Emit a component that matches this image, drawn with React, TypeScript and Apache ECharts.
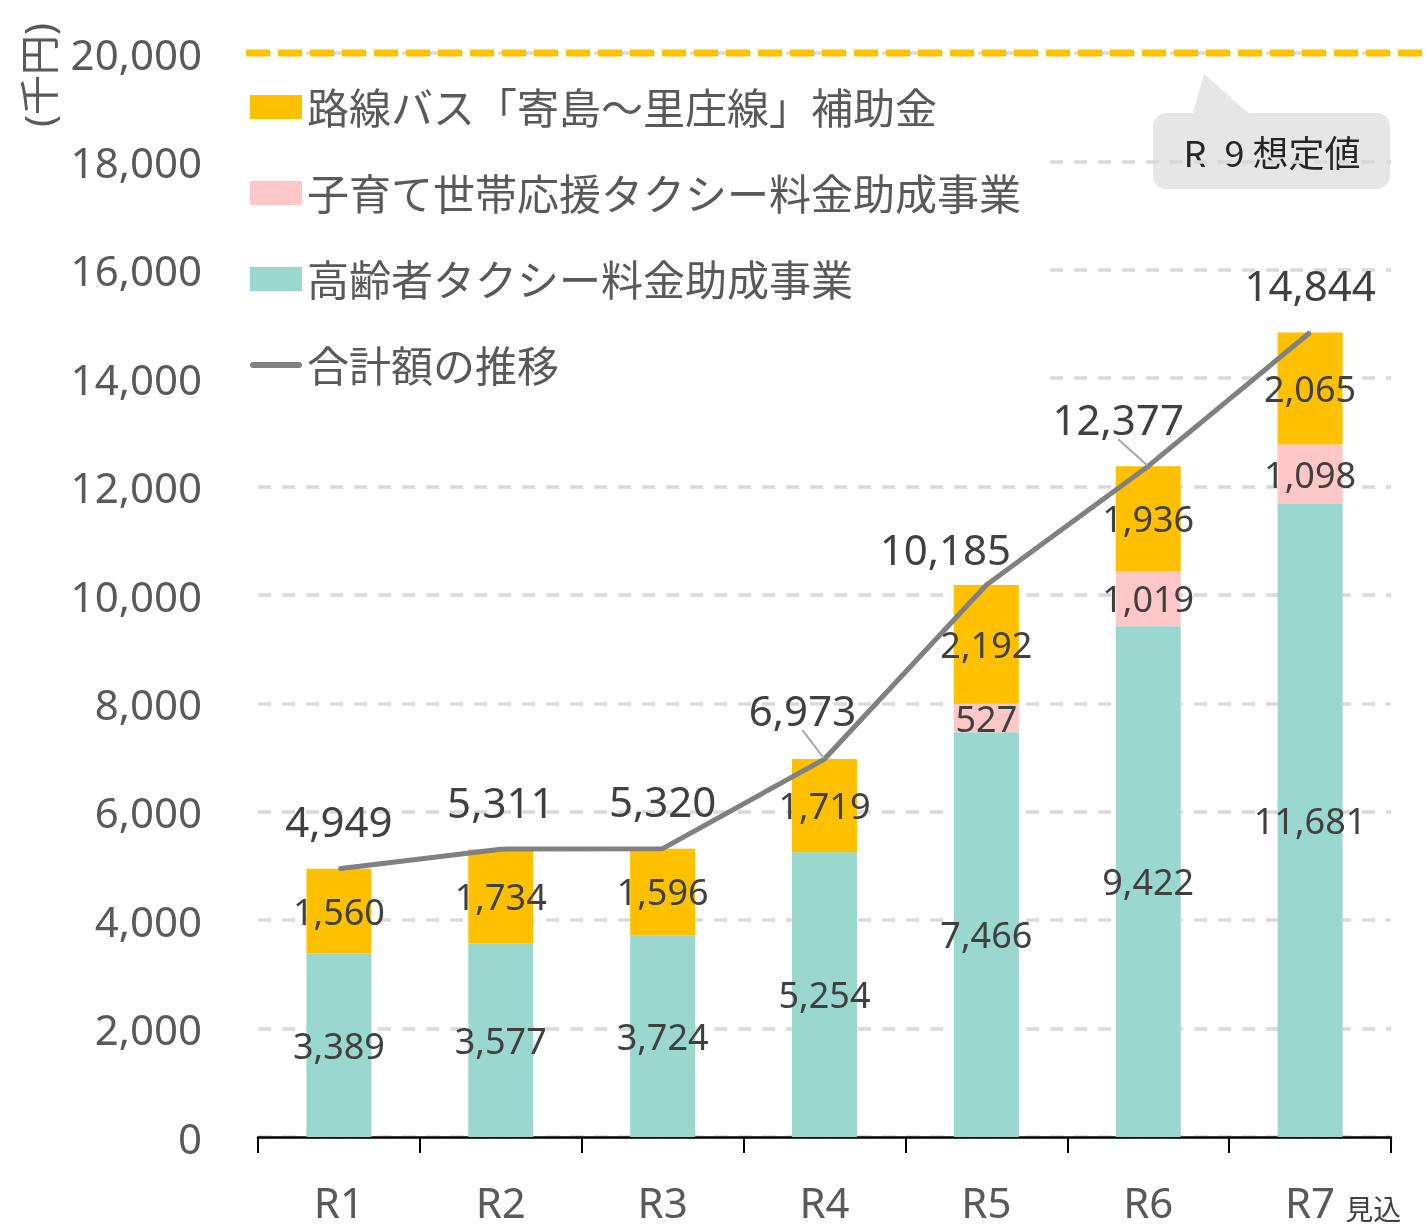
import React, { useEffect, useRef } from "react";
import * as echarts from "echarts";

const categories = ["R1", "R2", "R3", "R4", "R5", "R6", "R7"];
const elderly = [3389, 3577, 3724, 5254, 7466, 9422, 11681];
const childcare = [0, 0, 0, 0, 527, 1019, 1098];
const bus = [1560, 1734, 1596, 1719, 2192, 1936, 2065];
const totals = [4949, 5311, 5320, 6973, 10185, 12377, 14844];
const targetValue = 20000;

const seriesNames = [
  "路線バス「寄島～里庄線」補助金",
  "子育て世帯応援タクシー料金助成事業",
  "高齢者タクシー料金助成事業",
  "合計額の推移",
];

const FONT = "'Noto Sans', 'Noto Sans CJK JP', sans-serif";
const CJK = "'Noto Sans CJK JP', 'Noto Sans', sans-serif";
const fmt = (v: number) => (v ? v.toLocaleString("en-US") : "");

export default function App() {
  const ref = useRef<HTMLDivElement>(null);
  useEffect(() => {
    const chart = echarts.init(ref.current!, undefined, { renderer: "svg" });
    const innerLabel = {
      show: true,
      position: "inside",
      color: "#404040",
      fontSize: 36,
      fontFamily: FONT,
      formatter: (p: any) => fmt(p.value),
    };
    const labelOffsets: Record<number, [number, number]> = {
      3: [-22, -2],
      4: [-41, 12],
      5: [-30, 0],
    };
    const option: any = {
      animation: false,
      textStyle: { fontFamily: FONT },
      grid: { left: 258, right: 34, top: 53, bottom: 94, containLabel: false },
      legend: {
        orient: "vertical",
        left: 250,
        top: 86,
        padding: [0, 22, 16, 0],
        backgroundColor: "#ffffff",
        itemWidth: 52,
        itemHeight: 24,
        itemGap: 44,
        data: [
          { name: seriesNames[0], icon: "rect" },
          { name: seriesNames[1], icon: "rect" },
          { name: seriesNames[2], icon: "rect" },
          { name: seriesNames[3], icon: "path://M3 0h46a3 3 0 0 1 0 6H3a3 3 0 0 1 0-6z" },
        ],
        textStyle: {
          color: "#595959",
          fontSize: 42,
          lineHeight: 42,
          fontFamily: FONT,
        },
      },
      xAxis: {
        type: "category",
        data: categories,
        axisLine: { lineStyle: { color: "#000000", width: 2.5 } },
        axisTick: { show: true, length: 16, lineStyle: { color: "#000000", width: 2 } },
        axisLabel: {
          margin: 43,
          formatter: (v: string) =>
            v === "R7" ? `{pad|}{m|${v}}{s|見込}` : `{m|${v}}`,
          rich: {
            m: { fontSize: 42, lineHeight: 42, color: "#595959", fontFamily: FONT },
            pad: { width: 66, lineHeight: 42 },
            s: {
              fontSize: 28,
              lineHeight: 22,
              verticalAlign: "bottom",
              color: "#404040",
              fontFamily: CJK,
              padding: [0, 0, 0, 10],
            },
          },
        },
      },
      yAxis: {
        type: "value",
        min: 0,
        max: 20000,
        interval: 2000,
        axisLine: { show: false },
        axisTick: { show: false },
        axisLabel: {
          margin: 56,
          color: "#595959",
          fontSize: 42,
          fontFamily: FONT,
          formatter: (v: number) => v.toLocaleString("en-US"),
        },
        splitLine: {
          lineStyle: { color: "#d9d9d9", width: 3.5, type: [13, 11] },
        },
      },
      series: [
        {
          name: seriesNames[2],
          type: "bar",
          stack: "total",
          barWidth: 65,
          data: elderly,
          itemStyle: { color: "#9AD7CF" },
          label: innerLabel,
        },
        {
          name: seriesNames[1],
          type: "bar",
          stack: "total",
          barWidth: 65,
          data: childcare,
          itemStyle: { color: "#FFC7C7" },
          label: innerLabel,
        },
        {
          name: seriesNames[0],
          type: "bar",
          stack: "total",
          barWidth: 65,
          data: bus,
          itemStyle: { color: "#FFC000" },
          label: innerLabel,
        },
        {
          name: seriesNames[3],
          type: "line",
          z: 5,
          symbol: "circle",
          symbolSize: 2,
          showSymbol: true,
          data: totals.map((v, i) => ({
            value: v,
            labelLine: { show: i === 3 || i === 5 },
          })),
          lineStyle: { color: "#808080", width: 5 },
          itemStyle: { color: "#808080" },
          label: {
            show: true,
            position: "top",
            distance: 26,
            color: "#404040",
            fontSize: 42,
            fontFamily: FONT,
            formatter: (p: any) => fmt(p.value),
          },
          labelLine: {
            lineStyle: { color: "#a6a6a6", width: 2 },
          },
          labelLayout: (params: any) => {
            const o = labelOffsets[params.dataIndex];
            return o ? { dx: o[0], dy: o[1] } : {};
          },
        },
      ],
      graphic: [
        {
          id: "yname",
          type: "text",
          x: 38,
          y: 75,
          rotation: Math.PI / 2,
          style: {
            text: "(千円)",
            fontSize: 40,
            fontFamily: FONT,
            fill: "#595959",
            align: "center",
            verticalAlign: "middle",
          },
        },
        {
          id: "callout",
          type: "group",
          children: [
            {
              type: "polygon",
              shape: { points: [[1192, 116], [1204, 74], [1252, 116]] },
              style: { fill: "#e6e6e6" },
            },
            {
              type: "rect",
              shape: { x: 1153, y: 113, width: 237, height: 76, r: 14 },
              style: { fill: "#e6e6e6" },
            },
            {
              type: "text",
              x: 1272,
              y: 151,
              style: {
                text: "R\u20029 想定値",
                fontSize: 36,
                fontFamily: CJK,
                fill: "#262626",
                align: "center",
                verticalAlign: "middle",
              },
            },
          ],
        },
      ],
    };
    chart.setOption(option);
    const yT = chart.convertToPixel({ yAxisIndex: 0 }, targetValue) as number;
    chart.setOption({
      graphic: [
        {
          id: "target",
          type: "line",
          z: 10,
          shape: { x1: 246, y1: yT, x2: 1422, y2: yT },
          style: { stroke: "#FFC000", lineWidth: 7, lineDash: [24, 8] },
        },
      ],
    });
    return () => chart.dispose();
  }, []);
  return (
    <div
      ref={ref}
      style={{ position: "fixed", left: 0, top: 0, width: 1425, height: 1231 }}
    />
  );
}
